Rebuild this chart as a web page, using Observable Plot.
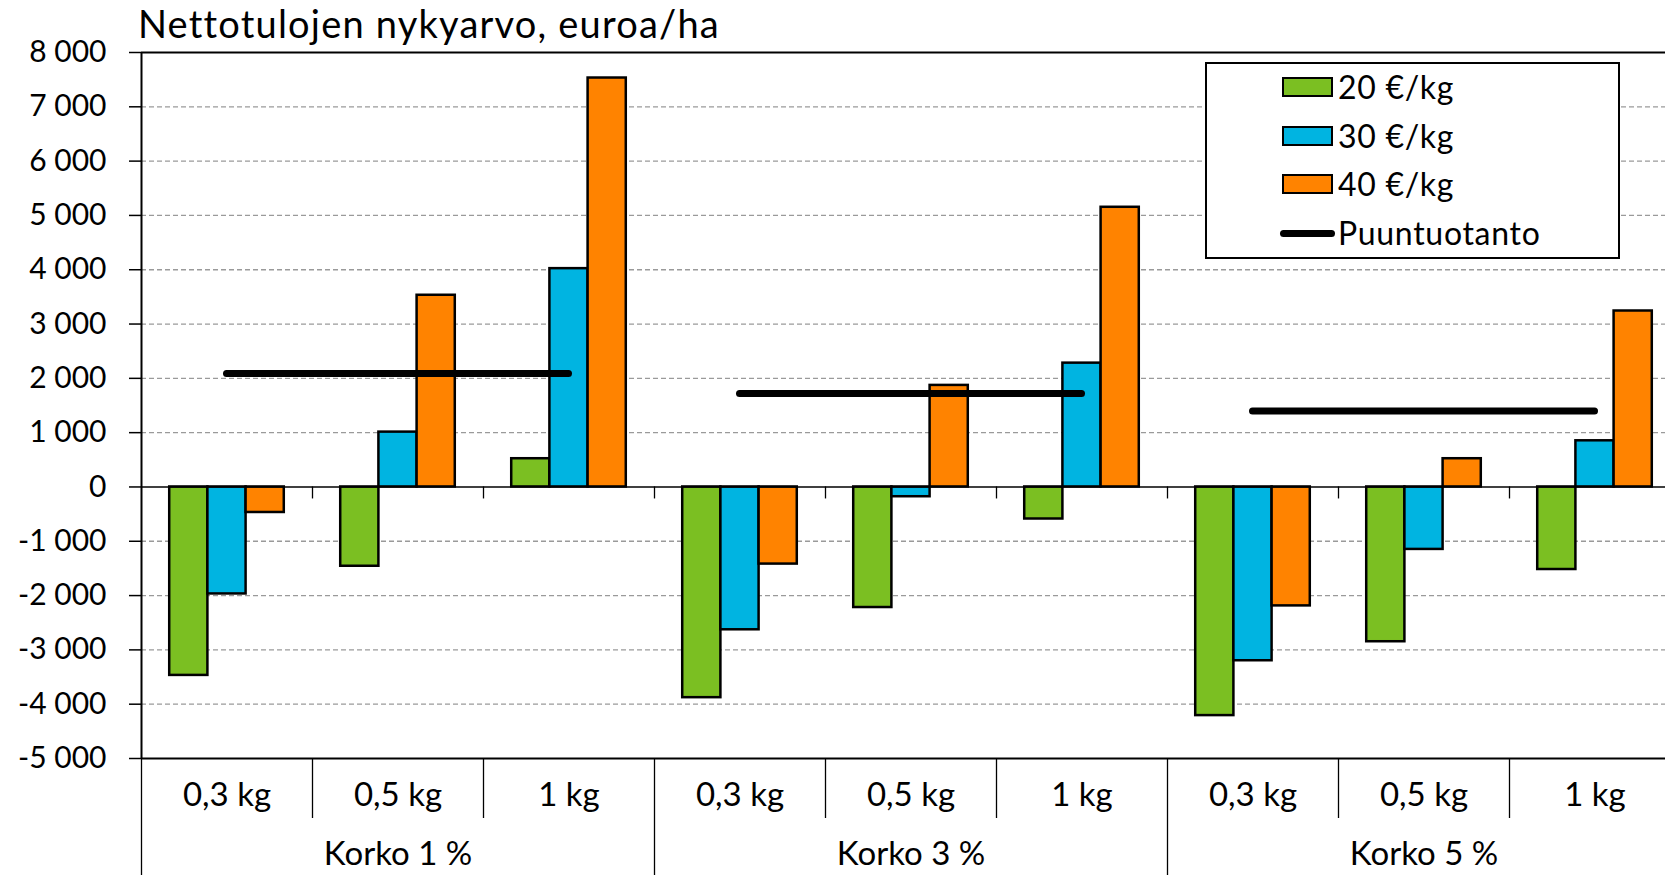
<!DOCTYPE html>
<html>
<head>
<meta charset="utf-8">
<script src="https://cdn.jsdelivr.net/npm/d3@7"></script>
<script src="https://cdn.jsdelivr.net/npm/@observablehq/plot@0.6"></script>
<style>
  html, body { margin: 0; padding: 0; overflow: hidden; background: #fff; }
  #wrap { position: relative; width: 1665px; height: 875px; overflow: hidden; font-family: Lato, sans-serif; color: #000; }
  #title { position: absolute; left: 138px; top: 0px; font-size: 38px; line-height: 46px; letter-spacing: 1.2px; white-space: nowrap; }
  #chart { position: absolute; left: 0; top: 0; }
  #chart svg { max-width: none !important; }
  #legend { position: absolute; left: 1205px; top: 62px; width: 415px; height: 197px; box-sizing: border-box;
            border: 2px solid #000; background: #fff; }
  .row { position: absolute; left: 0; height: 40px; width: 100%; }
  .sw { position: absolute; left: 75px; top: 10px; width: 51px; height: 20px; box-sizing: border-box; border: 2px solid #000; }
  .ln { position: absolute; left: 73px; top: 16.5px; width: 55px; height: 7px; border-radius: 4px; background: #000; }
  .lt { position: absolute; left: 131px; top: 0; height: 40px; line-height: 40px; font-size: 32px; letter-spacing: 0.7px; white-space: nowrap; }
</style>
</head>
<body>
<div id="wrap">
  <div id="chart"></div>
  <div id="title"></div>
  <div id="legend"></div>
</div>
<script>
// ---- data ----
const groups = ["Korko 1 %", "Korko 3 %", "Korko 5 %"];
const amounts = ["0,3 kg", "0,5 kg", "1 kg"];
const seriesNames = ["20 €/kg", "30 €/kg", "40 €/kg"];
const seriesColors = ["#7bbf22", "#00b4e1", "#ff8300"];
// values per category in order: Korko 1 % (0,3 / 0,5 / 1 kg), Korko 3 % (...), Korko 5 % (...)
const values20 = [-3470, -1460, 520, -3880, -2220, -590, -4210, -2850, -1520];
const values30 = [-1970, 1010, 4020, -2630, -180, 2280, -3200, -1150, 850];
const values40 = [-470, 3530, 7530, -1420, 1870, 5150, -2190, 520, 3240];
const puuntuotanto = [2090, 1720, 1400];
const puuName = "Puuntuotanto";
const yTicks = [-5000, -4000, -3000, -2000, -1000, 0, 1000, 2000, 3000, 4000, 5000, 6000, 7000, 8000];
const titleText = "Nettotulojen nykyarvo, euroa/ha";

// ---- derived tables ----
const allSeries = [values20, values30, values40];
const cats = [];
groups.forEach((g, gi) => amounts.forEach((a, ai) => cats.push({g, a, i: gi * amounts.length + ai})));
const groupFrac = 0.67;            // share of a category occupied by its three bars
const barW = groupFrac / seriesNames.length;
const bars = [];
cats.forEach(c => allSeries.forEach((vals, s) => {
  const x1 = c.i + 0.5 - groupFrac / 2 + s * barW;
  bars.push({x1, x2: x1 + barW, v: vals[c.i], s: seriesNames[s]});
}));
const puu = groups.map((g, gi) => ({g, v: puuntuotanto[gi], x1: gi * 3 + 0.5, x2: gi * 3 + 2.5}));
const groupLabels = groups.map((g, gi) => ({g, x: gi * 3 + 1.5}));
const nCat = cats.length;
const innerBounds = d3.range(1, nCat).filter(b => b % 3 !== 0);
const groupBounds = d3.range(0, nCat + 1, 3);
const allBounds = d3.range(1, nCat + 1);

const locale = d3.formatLocale({decimal: ",", thousands: " ", grouping: [3], currency: ["", " €"], minus: "-"});
const fmt = locale.format(",");

const marginTop = 52, marginBottom = 117, height = 875;
const plotH = height - marginTop - marginBottom;

const chart = Plot.plot({
  width: 1680,
  height,
  marginTop,
  marginBottom,
  marginLeft: 141,
  marginRight: 0,
  x: {type: "linear", domain: [0, nCat], axis: null},
  y: {domain: [yTicks[0], yTicks[yTicks.length - 1]], label: null},
  color: {domain: seriesNames, range: seriesColors},
  style: {fontFamily: "Lato, sans-serif", fontSize: "30px", color: "#000", background: "transparent", overflow: "visible", maxWidth: "none"},
  marks: [
    // dashed gridlines
    Plot.ruleY(yTicks.filter(v => v !== 0 && v !== yTicks[0] && v !== yTicks[yTicks.length - 1]),
      {stroke: "#9a9a9a", strokeWidth: 1.3, strokeDasharray: "5,3"}),
    // top and bottom frame lines
    Plot.ruleY([yTicks[yTicks.length - 1]], {stroke: "#000", strokeWidth: 2}),
    Plot.ruleY([yTicks[0]], {stroke: "#000", strokeWidth: 2}),
    // bars
    Plot.rect(bars, {x1: "x1", x2: "x2", y1: 0, y2: "v", fill: "s", stroke: "#000", strokeWidth: 2.5}),
    // zero line + ticks
    Plot.ruleY([0], {stroke: "#000", strokeWidth: 1.5}),
    Plot.ruleX(allBounds, {y1: 0, y2: 0, insetBottom: -12, stroke: "#000", strokeWidth: 1.3}),
    // y axis line
    Plot.ruleX([0], {stroke: "#000", strokeWidth: 2}),
    Plot.axisY(yTicks, {label: null, tickSize: 12, tickPadding: 23, tickFormat: fmt, fontSize: 30, strokeWidth: 1.5}),
    // Puuntuotanto
    Plot.ruleY(puu, {y: "v", x1: "x1", x2: "x2", stroke: "#000", strokeWidth: 7, strokeLinecap: "round"}),
    // category separators below the plot
    Plot.ruleX(innerBounds, {insetTop: plotH, insetBottom: -60, stroke: "#000", strokeWidth: 1.3}),
    Plot.ruleX(groupBounds, {insetTop: plotH, insetBottom: -marginBottom, stroke: "#000", strokeWidth: 1.3}),
    // category & group labels
    Plot.text(cats, {x: d => d.i + 0.5, text: "a", frameAnchor: "bottom", lineAnchor: "middle", dy: 37, fontSize: 33, fill: "#000"}),
    Plot.text(groupLabels, {x: "x", text: "g", frameAnchor: "bottom", lineAnchor: "middle", dy: 96, fontSize: 33, fill: "#000"})
  ]
});
document.getElementById("chart").appendChild(chart);
document.getElementById("title").textContent = titleText;

// legend
const legend = document.getElementById("legend");
const rowStep = 48.7;
seriesNames.forEach((name, i) => {
  const row = document.createElement("div");
  row.className = "row";
  row.style.top = (3 + i * rowStep) + "px";
  row.innerHTML = `<div class="sw" style="background:${seriesColors[i]}"></div><div class="lt"></div>`;
  row.querySelector(".lt").textContent = name;
  legend.appendChild(row);
});
const prow = document.createElement("div");
prow.className = "row";
prow.style.top = (3 + 3 * rowStep) + "px";
prow.innerHTML = `<div class="ln"></div><div class="lt"></div>`;
prow.querySelector(".lt").textContent = puuName;
legend.appendChild(prow);
</script>
</body>
</html>
